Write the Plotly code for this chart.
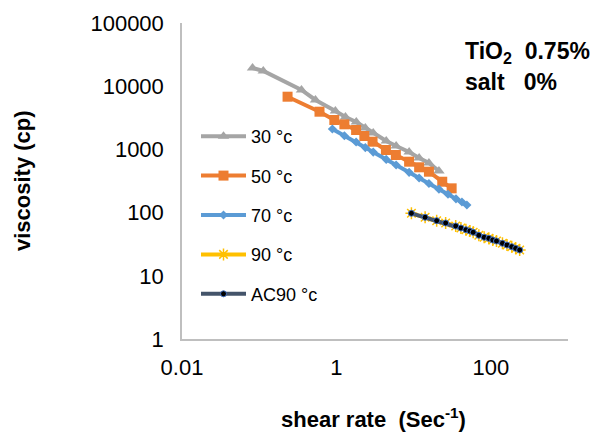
import plotly.graph_objects as go

# ---- data ----
x30 = [0.082, 0.113, 0.353, 0.536, 0.97, 1.31, 1.81, 2.37, 3.0, 4.42, 5.94, 8.75, 11.8, 15.8, 21.3]
y30 = [19400, 17400, 8710, 6050, 4050, 3260, 2715, 2180, 1817, 1358, 1132, 910, 731, 609, 455]

x50 = [0.233, 0.604, 0.94, 1.27, 1.80, 2.30, 2.94, 4.38, 5.89, 8.75, 11.8, 15.8, 23.5, 31.1]
y50 = [6820, 3950, 2920, 2495, 2028, 1630, 1324, 979, 815, 639, 521, 444, 308, 242]

x70 = [0.887, 1.27, 1.80, 2.37, 3.0, 4.42, 5.94, 8.75, 11.8, 15.8, 21.3, 27.9, 35.4, 42.3, 49.0]
y70 = [2100, 1641, 1310, 1068, 906, 695, 566, 433, 353, 288, 235, 195, 165, 147, 132]

x90 = [9.37, 14.1, 19.9, 26.0, 35.1, 41.0, 47.6, 53.6, 59.1, 70.0, 82.0, 94.2, 106, 118.5,
       141.6, 162, 186.6, 210, 236.6]
y90 = [97.5, 84.3, 74.5, 68.5, 61.4, 57.0, 53.6, 51.2, 48.8, 43.7, 40.7, 39.2, 36.9, 35.5,
       32.7, 30.7, 28.9, 27.2, 25.6]

xac90 = list(x90)
yac90 = list(y90)

names = ["30 °c", "50 °c", "70 °c", "90 °c", "AC90 °c"]
x_ticks = [0.01, 1, 100]
x_tick_text = ["0.01", "1", "100"]
y_ticks = [1, 10, 100, 1000, 10000, 100000]
y_tick_text = ["1", "10", "100", "1000", "10000", "100000"]

FONT = "Liberation Sans, Arial, sans-serif"

fig = go.Figure()
fig.add_trace(go.Scatter(x=x30, y=y30, name=names[0], mode="lines+markers", legendgroup="a",
                         line=dict(color="#A5A5A5", width=4),
                         marker=dict(symbol="triangle-up", size=10, color="#A5A5A5")))
fig.add_trace(go.Scatter(x=x50, y=y50, name=names[1], mode="lines+markers", legendgroup="b",
                         line=dict(color="#ED7D31", width=4),
                         marker=dict(symbol="square", size=10, color="#ED7D31")))
fig.add_trace(go.Scatter(x=x70, y=y70, name=names[2], mode="lines+markers", legendgroup="c",
                         line=dict(color="#5B9BD5", width=4),
                         marker=dict(symbol="diamond", size=7, color="#5B9BD5")))
fig.add_trace(go.Scatter(x=x90, y=y90, name=names[3], mode="lines+markers", legendgroup="d",
                         line=dict(color="#FFC000", width=4),
                         marker=dict(symbol="asterisk-open", size=10,
                                     line=dict(color="#FFC000", width=1.5))))
fig.add_trace(go.Scatter(x=xac90, y=yac90, name=names[4], mode="lines+markers", legendgroup="e",
                         line=dict(color="#44546A", width=4),
                         marker=dict(symbol="circle", size=6, color="black",
                                     line=dict(color="#4472C4", width=1))))

# page has an 8px body margin, so the figure is drawn offset by 8px
OFF = 8
PW, PH = 600, 433                 # page size
PL, PR, PT, PB = 182, 568, 23, 339  # plot area in page pixels
W, H = PW - OFF, PH - OFF
L, T = PL - OFF, PT - OFF
R, B = W - (PR - OFF), H - (PB - OFF)


def px(xp):
    return (xp - PL) / (PR - PL)


def py(yp):
    return (PB - yp) / (PB - PT)


fig.update_layout(
    width=W, height=H,
    margin=dict(l=L, r=R, t=T, b=B, autoexpand=False),
    paper_bgcolor="white", plot_bgcolor="white",
    font=dict(family=FONT, color="black"),
    showlegend=True,
    legend=dict(x=px(196), y=py(118), xanchor="left", yanchor="top",
                bgcolor="rgba(0,0,0,0)", font=dict(size=18, family=FONT),
                tracegroupgap=13, itemwidth=45),
    xaxis=dict(type="log", range=[-2, 3], tickvals=x_ticks, ticktext=x_tick_text,
               showgrid=False, zeroline=False, showline=True, linecolor="#BFBFBF",
               linewidth=1.5, ticks="", ticklabelstandoff=8, automargin=False,
               tickfont=dict(size=22, family=FONT)),
    yaxis=dict(type="log", range=[0, 5], tickvals=y_ticks, ticktext=y_tick_text,
               showgrid=False, zeroline=False, showline=True, linecolor="#BFBFBF",
               linewidth=1.5, ticks="", ticklabelstandoff=12, automargin=False,
               tickfont=dict(size=22, family=FONT)),
    annotations=[
        dict(text="<b>viscosity (cp)</b>", xref="paper", yref="paper",
             x=px(22), y=py(181), textangle=-90, showarrow=False,
             xanchor="center", yanchor="middle", font=dict(size=22, family=FONT)),
        dict(text="<b>shear rate \u00a0(Sec<sup>-1</sup>)</b>", xref="paper", yref="paper",
             x=px(373), y=py(418), showarrow=False,
             xanchor="center", yanchor="middle", font=dict(size=22, family=FONT)),
        dict(text="<b>TiO<sub>2</sub>\u00a0\u00a00.75%</b>",
             xref="paper", yref="paper", x=px(463), y=py(52), showarrow=False,
             xanchor="left", yanchor="middle", align="left",
             font=dict(size=23, family=FONT)),
        dict(text="<b>salt\u00a0\u00a0\u00a00%</b>",
             xref="paper", yref="paper", x=px(463), y=py(82), showarrow=False,
             xanchor="left", yanchor="middle", align="left",
             font=dict(size=23, family=FONT)),
    ],
)

fig.write_html("out.html")
